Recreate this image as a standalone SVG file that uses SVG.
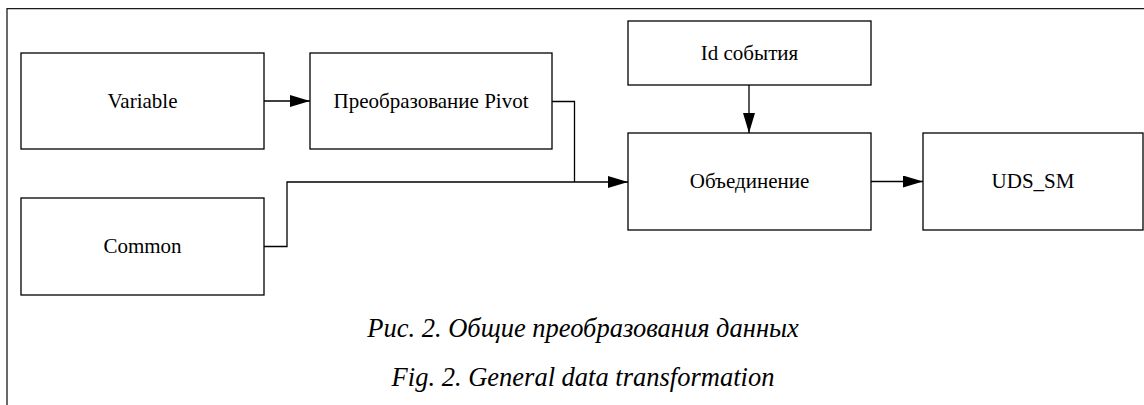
<svg xmlns="http://www.w3.org/2000/svg" width="1144" height="405" viewBox="0 0 1144 405">
<style>
.box{fill:#fff;stroke:#000;stroke-width:1.3}
.lbl{font-size:21px;fill:#000;text-anchor:middle}
.cap{font-size:26.5px;font-style:italic;fill:#000;text-anchor:middle}
.edge{fill:none;stroke:#000;stroke-width:1.3}
.frame{fill:none;stroke:#1a1a1a;stroke-width:1.3}
</style>
<defs>
<marker id="arr" viewBox="0 0 20 12" refX="20" refY="6" markerWidth="20" markerHeight="12" markerUnits="userSpaceOnUse" orient="auto">
<path d="M0,0 L20,6 L0,12 Z" fill="#000"/>
</marker>
</defs>
<rect width="1144" height="405" fill="#fff"/>
<path class="frame" d="M7,405 V8.7 H1144"/>
<g font-family="Liberation Serif, DejaVu Serif, serif">
<g id="node-variable"><rect class="box" x="21" y="53" width="243" height="96"/><text class="lbl" x="142.5" y="108">Variable</text></g>
<g id="node-pivot"><rect class="box" x="310" y="53" width="242" height="96"/><text class="lbl" x="431" y="108">Преобразование Pivot</text></g>
<g id="node-common"><rect class="box" x="21" y="198" width="243" height="97"/><text class="lbl" x="142.5" y="253">Common</text></g>
<g id="node-id"><rect class="box" x="628" y="21" width="243" height="64"/><text class="lbl" x="749.5" y="60">Id события</text></g>
<g id="node-union"><rect class="box" x="628" y="133" width="243" height="97"/><text class="lbl" x="749.5" y="188">Объединение</text></g>
<g id="node-uds"><rect class="box" x="923" y="133" width="220" height="97"/><text class="lbl" x="1033" y="188">UDS_SM</text></g>
<text class="cap" x="583" y="337">Рис. 2. Общие преобразования данных</text>
<text class="cap" x="583" y="386">Fig. 2. General data transformation</text>
</g>
<g id="connectors">
<path class="edge" d="M264,101 H310" marker-end="url(#arr)"/>
<path class="edge" d="M749,85 V133" marker-end="url(#arr)"/>
<path class="edge" d="M552,101.5 H574.5 V182"/>
<path class="edge" d="M264,246.5 H287 V182 H628" marker-end="url(#arr)"/>
<path class="edge" d="M871,181.5 H923" marker-end="url(#arr)"/>
</g>
</svg>
